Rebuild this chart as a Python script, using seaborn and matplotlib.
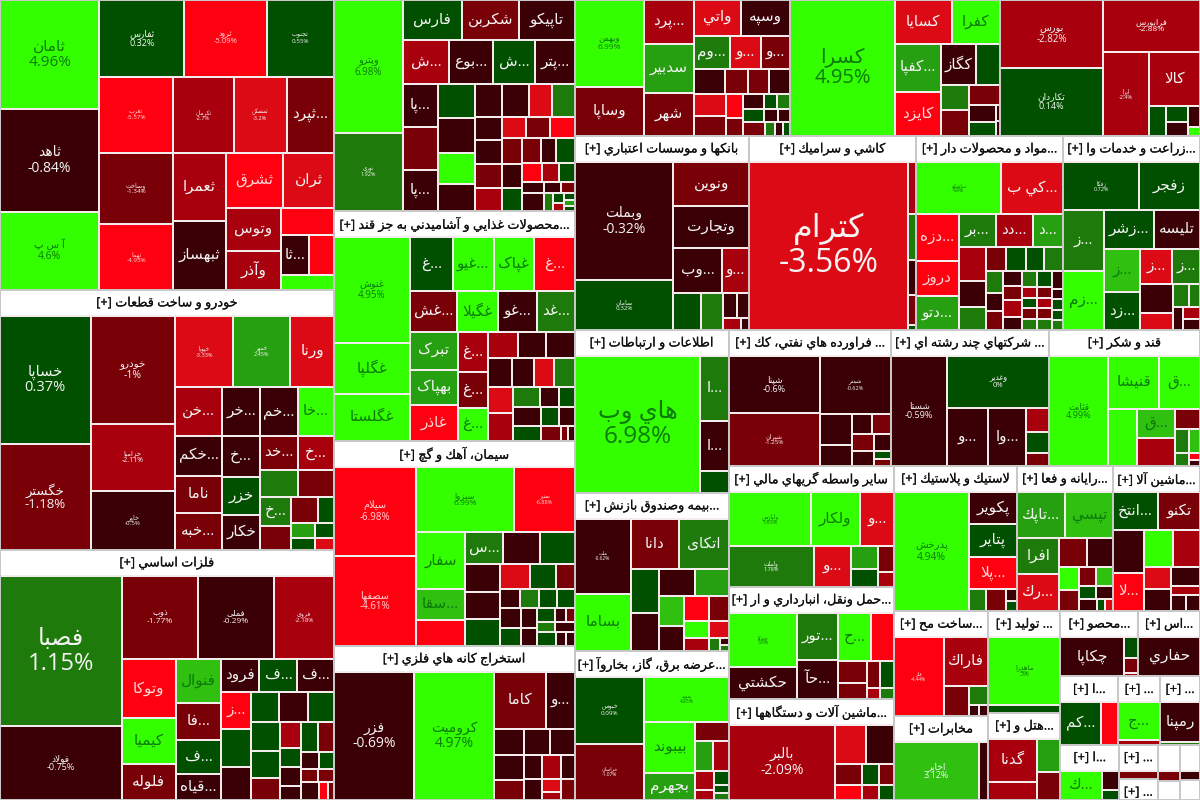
import matplotlib
matplotlib.use("Agg")
import matplotlib.pyplot as plt
import matplotlib.patheffects as pe
from matplotlib.colors import BoundaryNorm, ListedColormap
from matplotlib.patches import Rectangle
import seaborn as sns


def H(*children):
    return ["h", *children]


def V(*children):
    return ["v", *children]


def S(name, total, tree):
    return ["s", name, total, tree]


D, R, E, B, X = -0.6, -1.3, -2.5, -3.5, -5
G, M, L, P, Y = 0.3, 1.3, 2.5, 3.5, 5

# (symbol, change %, market weight)
services_tree = H(
    V(("ثامان", 4.96, 10500), ("ثاهد", -0.84, 9900), ("آ س پ", 4.6, 7500)),
    V(
        H(("ثفارس", 0.32, 6300), ("ثرود", -5.09, 6100), ("ثجنوب", 0.55, 5000)),
        H(("ثغرب", -5.57, 5400), ("ثکرمان", -2.7, 4500), ("ثمسکن", -3.2, 3900), ("...ثپرد", R, 3500)),
        H(
            V(("وساخت", -1.34, 5050), ("ثهما", -4.93, 4700)),
            V(("ثعمرا", E, 3500), ("ثبهساز", D, 3550)),
            V(
                H(("ثشرق", X, 3000), ("ثران", B, 2700)),
                H(
                    V(("وتوس", E, 2300), ("وآذر", E, 2050)),
                    V(("", X, 1400), H(("...ثا", D, 1100), ("", X, 1000)), ("", Y, 750)),
                ),
            ),
        ),
    ),
)
auto_tree = H(
    V(("خساپا", 0.37, 11100), ("خگستر", -1.18, 9200)),
    V(("خودرو", -1, 8700), ("خزامیا", -2.11, 5400), ("خاور", -0.5, 4800)),
    V(
        H(("خپویا", -3.33, 3950), ("خمهر", 2.45, 3900), ("ورنا", B, 3000)),
        H(
            V(("...خن", E, 2150), ("...خکم", D, 1800), ("ناما", R, 1650), ("...خبه", R, 1650)),
            V(("...خر", D, 1800), ("...خ", D, 1520), ("خزر", G, 1400), ("خکار", D, 1300)),
            V(
                H(("...خم", D, 1740), ("...خا", Y, 1700)),
                H(("...خد", R, 1200), ("...خ", E, 1150)),
                H(("", M, 960), ("", R, 940)),
                H(
                    V(("...خ", M, 850), ("", R, 700)),
                    V(
                        H(("", R, 680), ("", G, 420)),
                        H(("", L, 330), ("", G, 270)),
                        H(("", G, 280), ("", B, 220)),
                    ),
                ),
            ),
        ),
    ),
)
metals_tree = H(
    V(("فصبا", 1.15, 17100), ("فولاد", -0.75, 8400)),
    V(
        H(("ذوب", -1.77, 6000), ("فملی", -0.29, 5900), ("فروی", -2.18, 4700)),
        H(
            V(("وتوکا", X, 3000), ("کیمیا", Y, 2300), ("فلوله", R, 1850)),
            V(("فنوال", P, 1850), ("...فا", R, 1550), ("...ف", G, 1450), ("...قیاه", D, 1080)),
            V(
                H(("فرود", D, 1150), ("...ف", G, 1150), ("...ف", D, 1100)),
                H(
                    V(("...ز", X, 1040), ("", G, 1060), ("", D, 920)),
                    V(
                        H(("", G, 810), ("", D, 840), ("", G, 750)),
                        H(
                            V(("", G, 780), ("", G, 730), ("", R, 600)),
                            V(("", E, 520), ("", G, 380), ("", D, 380), ("", D, 270)),
                            V(
                                H(("", G, 470), ("", R, 440)),
                                H(("", D, 270), ("", G, 240)),
                                H(("", R, 220), ("", R, 200)),
                                H(("", D, 300), ("", X, 140), ("", R, 100)),
                            ),
                        ),
                    ),
                ),
            ),
        ),
    ),
)
refinery_tree = H(
    V(("وپترو", 6.98, 8300), ("نوری", 1.92, 4900)),
    V(
        H(("فارس", G, 2150), ("شکربن", R, 2100), ("تاپیکو", D, 2050)),
        H(("...ش", E, 1800), ("...بوع", D, 1720), ("...ش", G, 1680), ("...پتر", D, 1560)),
        H(
            V(("...پا", D, 1380), ("", R, 1340), ("...پا", D, 1300)),
            V(("", G, 1150), ("", D, 1150), ("", Y, 1050), ("", D, 900)),
            V(
                H(("", D, 800), ("", D, 830), ("", B, 680), ("", M, 680)),
                H(
                    V(("", D, 580), ("", D, 580), ("", R, 580), ("", E, 560)),
                    V(
                        H(("", B, 480), ("", R, 460), ("", X, 480)),
                        H(
                            V(("", R, 490), ("", D, 450), ("", G, 420)),
                            V(
                                H(("", R, 420), ("", D, 350), ("", G, 420)),
                                H(("", X, 330), ("", E, 290), ("", G, 280)),
                                H(("", D, 230), ("", D, 190), ("", R, 150)),
                                H(("", D, 340), ("", M, 150), V(("", G, 100), ("", E, 80)), V(("", G, 60), ("", L, 60), ("", G, 50))),
                            ),
                        ),
                    ),
                ),
            ),
        ),
    ),
)
food_tree = H(
    V(("غنوش", 4.95, 7250), ("غگلپا", Y, 3550), ("غگلستا", Y, 3200)),
    V(
        H(("...غ", G, 2100), ("...غيو", Y, 2000), ("غپاک", Y, 2000), ("...غ", X, 2000)),
        H(("...غش", R, 1700), ("غگیلا", Y, 1520), ("...غو", D, 1400), ("...غد", M, 1400)),
        H(
            V(("تبرک", L, 1650), ("بهپاک", L, 1550), ("غاذر", X, 1550)),
            V(("...غ", E, 1100), ("...غ", R, 980), ("...غ", Y, 900)),
            V(
                H(("", E, 720), ("", D, 680), ("", D, 700)),
                H(("", D, 600), ("", D, 570), ("", B, 510), ("", M, 540)),
                H(
                    V(("", B, 600), ("", E, 620)),
                    V(
                        H(("", M, 500), ("", D, 340), ("", G, 290)),
                        H(("", D, 470), ("", G, 320), ("", D, 270)),
                        H(("", G, 390), ("", R, 270), ("", R, 100), ("", D, 100)),
                    ),
                ),
            ),
        ),
    ),
)
cement_tree = H(
    V(("سیلام", -6.98, 6600), ("سصفها", -4.61, 6700)),
    V(
        H(("سبزوا", 6.99, 5800), ("ستپر", -6.88, 3650)),
        H(
            V(("سفار", Y, 2530), ("...سقا", P, 1380), ("", X, 1150)),
            V(
                H(("...س", M, 1100), ("", D, 1080), ("", G, 1020)),
                H(
                    V(("", D, 860), ("", D, 860), ("", G, 860)),
                    V(
                        H(("", B, 670), ("", G, 600), ("", R, 430)),
                        H(("", D, 330), ("", M, 330), ("", G, 300), ("", G, 300)),
                        H(
                            V(("", D, 380), ("", G, 340)),
                            V(("", D, 300), ("", D, 270)),
                            V(
                                H(("", G, 220), ("", D, 140), ("", R, 110)),
                                H(("", M, 170), ("", D, 200)),
                                H(("", G, 230), ("", D, 130), ("", D, 110)),
                            ),
                        ),
                    ),
                ),
            ),
        ),
    ),
)
mining_tree = H(
    ("فزر", -0.69, 9400),
    ("کرومیت", 4.97, 9300),
    V(
        H(("کاما", R, 2700), ("...و", D, 1500)),
        H(("", D, 730), ("", D, 630), ("", D, 600)),
        H(
            V(("", D, 680), ("", R, 560)),
            V(
                H(("", D, 400), ("", E, 430), ("", D, 310)),
                H(("", D, 340), V(("", B, 220), ("", E, 150)), ("", R, 260)),
            ),
        ),
    ),
)
auto_parts_tree = H(
    V(("وبهمن", 6.99, 5500), ("وساپا", R, 3100)),
    V(("...پرد", E, 2000), ("سدبیر", L, 2250), ("شهر", R, 1950)),
    V(
        H(("واتي", B, 1550), ("وسپه", D, 1600)),
        H(("...وم", M, 1120), ("...و", B, 970), ("...و", R, 900)),
        H(("", D, 720), ("", R, 500), ("", R, 480), ("", D, 480)),
        H(
            V(("", B, 650), ("", R, 590)),
            V(("", X, 380), ("", R, 290)),
            V(
                H(("", D, 280), ("", G, 170), ("", M, 170)),
                H(("", G, 260), ("", D, 170), ("", D, 150)),
                H(("", R, 280), ("", M, 130), ("", D, 100), ("", G, 90)),
            ),
        ),
    ),
)
tile_top_tree = H(
    ("کسرا", 4.95, 13200),
    V(
        H(("کسایا", B, 2300), ("کفرا", Y, 1950)),
        H(
            V(("...کفپا", L, 2050), ("کایزد", X, 1900)),
            V(
                H(("کگاز", D, 1350), ("", G, 900)),
                H(
                    V(("", M, 680), ("", R, 680)),
                    V(("", R, 580), H(V(("", D, 420), ("", G, 340)), V(("", D, 60), ("", D, 60)))),
                ),
            ),
        ),
    ),
)
exchange_tree = H(
    V(("بورس", -2.82, 6600), ("تکاردان", 0.14, 6700)),
    V(
        ("فرابورس", -2.88, 4750),
        H(
            ("ایرا", -2.4, 3650),
            V(
                ("کالا", E, 2650),
                H(("", G, 470), V(("", G, 320), ("", D, 300)), V(("", D, 240), ("", Y, 110))),
            ),
        ),
    ),
)
banks_tree = H(
    V(("وبملت", -0.32, 10500), ("سامان", 0.32, 4400)),
    V(
        ("ونوین", R, 3000),
        ("وتجارت", D, 2900),
        H(("...وب", D, 2000), ("...و", E, 1100)),
        H(
            ("", G, 930),
            ("", M, 740),
            V(H(("", D, 320), ("", D, 280)), H(("", E, 190), ("", D, 90))),
        ),
    ),
)
tile_tree = H(
    ("کترام", -3.56, 25100),
    V(("", E, 380), ("", M, 340), ("", D, 250), ("", R, 220), ("", G, 40)),
)
materials_tree = V(
    H(("ساشکو", 4.8, 3850), ("...كي ب", B, 2800)),
    H(
        V(("...دزه", X, 1760), ("دروز", X, 1300), ("...دتو", L, 1280)),
        V(
            H(("...بر", M, 1050), ("...دد", E, 1050), ("...د", L, 870)),
            H(
                V(("", E, 800), ("", D, 600), ("", M, 550)),
                V(
                    H(("", R, 420), ("", G, 420), ("", G, 370), ("", M, 400)),
                    H(
                        V(("", M, 340), ("", D, 290), ("", R, 290)),
                        V(("", D, 255), ("", R, 230), ("", E, 270), ("", D, 210)),
                        V(("", M, 210), ("", E, 140), ("", G, 140), ("", R, 140), ("", M, 140)),
                        V(("", G, 210), ("", R, 140), ("", E, 140), ("", R, 140), ("", M, 140)),
                        V(("", D, 180), ("", D, 100), ("", G, 100), ("", G, 100), ("", M, 100)),
                    ),
                ),
            ),
        ),
    ),
)
farming_tree = V(
    H(("زفکا", 0.72, 3350), ("زفجر", G, 2700)),
    H(
        V(("...ز", M, 2300), ("...زم", Y, 2250)),
        V(
            H(("...زشر", G, 1750), ("تلیسه", D, 1650)),
            H(
                V(("...ز", P, 1400), ("...زد", G, 1250)),
                V(
                    H(("...ز", B, 1050), ("...ز", M, 920)),
                    H(
                        V(("", D, 870), ("", B, 510)),
                        V(
                            H(("", M, 330), ("", M, 240)),
                            H(("", D, 210), V(("", E, 190), ("", D, 170))),
                        ),
                    ),
                ),
            ),
        ),
    ),
)
telecom_tree = H(
    ("هاي وب", 6.98, 16500),
    V(("...ا", M, 1830), ("...ا", D, 1420), ("", G, 610)),
)
insurance_tree = H(
    V(("ملت", -0.62, 3700), ("بساما", Y, 2850)),
    V(
        H(("دانا", R, 2200), ("اتکای", M, 2250)),
        H(
            V(("", G, 1130), ("", D, 970)),
            V(
                H(("", D, 840), ("", L, 800)),
                H(
                    V(("", P, 670), ("", D, 570)),
                    V(
                        H(("", X, 550), ("", R, 450)),
                        H(("", Y, 380), ("", B, 320)),
                        H(("", E, 290), ("", M, 130), V(("", D, 50), ("", M, 50))),
                    ),
                ),
            ),
        ),
    ),
)
power_tree = H(
    V(("خبوس", 0.09, 4250), ("خراسان", -1.07, 3600)),
    V(
        ("بموند", 4.85, 3500),
        H(
            V(("بيبوند", Y, 2450), ("بجهرم", L, 1250)),
            V(
                ("", R, 600),
                H(("", L, 510), ("", E, 450)),
                H(V(("", E, 330), ("", E, 170)), V(("", G, 200), ("", G, 110), ("", M, 100))),
            ),
        ),
    ),
)
petro_tree = H(
    V(("شپنا", -0.6, 4750), ("شپران", -1.25, 4470)),
    V(
        ("شبندر", -0.62, 3850),
        H(
            V(("", D, 930), ("", D, 620)),
            V(
                H(("", D, 360), ("", R, 360)),
                H(("", R, 340), ("", D, 260)),
                H(("", D, 300), V(("", G, 120), ("", R, 120))),
            ),
        ),
    ),
)
holding_tree = H(
    ("شستا", -0.59, 5700),
    V(
        ("وغدیر", 0, 4850),
        H(
            ("...و", D, 2200),
            ("...وا", D, 2050),
            V(("", E, 510), ("", G, 460), ("", R, 280)),
        ),
    ),
)
sugar_tree = H(
    ("قثابت", 4.99, 5900),
    V(
        H(("قنیشا", Y, 2450), ("...ق", Y, 1950)),
        H(
            ("", Y, 1540),
            V(("...ق", P, 1000), ("", E, 940)),
            V(
                ("", R, 470),
                H(("", M, 320), ("", P, 230)),
                H(("", M, 170), V(("", X, 80), ("", D, 60))),
            ),
        ),
    ),
)
brokers_tree = V(
    H(("ولپارس", 5.85, 3900), ("ولکار", Y, 2350), ("...و", B, 1650)),
    H(
        ("ولملت", 1.78, 3100),
        ("...و", B, 1360),
        V(("", L, 570), ("", G, 430)),
        V(("", R, 370), ("", E, 220)),
    ),
)
transport_tree = H(
    V(("حتوکا", 5.6, 3100), ("حکشتي", D, 1860)),
    V(("...تور", M, 1680), ("...حآ", D, 1400)),
    V(
        H(("...ح", Y, 1330), ("", X, 950)),
        H(V(("", R, 540), ("", R, 380)), V(("", R, 320), ("", E, 130)), V(("", G, 320), ("", M, 130))),
    ),
)
machinery_tree = H(
    ("بالبر", -2.09, 7600),
    V(
        H(("", B, 1140), ("", D, 1030)),
        H(("", R, 540), ("", G, 340), ("", R, 310)),
        H(("", X, 390), ("", E, 240), ("", G, 220)),
    ),
)
rubber_tree = H(
    ("پدرخش", 4.94, 8100),
    V(
        ("پکویر", D, 1390),
        ("پتایر", G, 1440),
        ("...پلا", X, 1390),
        H(("", M, 330), ("", R, 400), V(("", D, 120), ("", G, 105))),
    ),
)
computer_tree = V(
    H(("...تاپك", L, 1980), ("تپسي", P, 1950)),
    H(
        V(("افرا", M, 1330), ("...رك", B, 1400)),
        V(
            H(("", R, 700), ("", D, 670)),
            H(
                V(("", Y, 400), ("", R, 360)),
                V(
                    H(("", R, 290), ("", P, 290)),
                    H(("", G, 200), ("", D, 190)),
                    H(("", D, 190), ("", G, 90), ("", B, 80)),
                ),
            ),
        ),
    ),
)
equipment_tree = V(
    H(("...انتخ", G, 1520), ("تکنو", R, 1400)),
    H(
        V(("", D, 1190), ("...لا", X, 1080)),
        V(
            H(("", Y, 920), ("", E, 900)),
            H(
                V(("", B, 520), ("", D, 520)),
                V(("", D, 490), ("", E, 260), H(("", D, 220), ("", D, 190))),
            ),
        ),
    ),
)
build_tree = H(
    ("فلز", -4.44, 3400),
    V(
        ("فاراك", E, 1900),
        H(("", R, 690), V(("", M, 310), H(("", D, 100), ("", D, 90)))),
    ),
)
comm_tree = H(("اخابر", 3.12, 4600), ("", D, 530))
make_tree = V(("ماهدرا", 5, 4300), ("", G, 540))
hotel_tree = H(V(("گدنا", E, 1900), ("", E, 800)), V(("", L, 680), ("", R, 590)))
product_tree = H(("چكاپا", -0.5, 2060), V(("", G, 240), ("", R, 170), ("", E, 40)))
drill_tree = H(("حفاري", D, 2100))
small_a_tree = H(("...كم", G, 1400), ("", X, 600))
small_b_tree = V(("...ج", Y, 1360), ("", E, 160))
small_c_tree = V(("رمپنا", D, 1380), ("", M, 110))
small_d_tree = H(("...ك", Y, 1100), V(("", D, 300), ("", G, 165)))
small_e_tree = H(("", R, 210))
small_f_tree = H(("", R, 180))
small_g_tree = H(("", D, 180))
small_h_tree = H(("", D, 60))

root = H(
    V(
        S(None, 96860, services_tree),
        S("خودرو و ساخت قطعات", 86840, auto_tree),
        S("فلزات اساسي", 83500, metals_tree),
    ),
    V(
        S(None, 50851, refinery_tree),
        S("...محصولات غذايي و آشاميدني به جز قند", 55430, food_tree),
        S("سيمان، آهك و گچ", 49405, cement_tree),
        S("استخراج كانه هاي فلزي", 37114, mining_tree),
    ),
    V(
        H(S(None, 29240, auto_parts_tree), S(None, 28560, tile_top_tree), S(None, 27200, exchange_tree)),
        H(
            S("بانكها و موسسات اعتباري", 33756, banks_tree),
            S("كاشي و سراميك", 32398, tile_tree),
            S("...مواد و محصولات دار", 28518, materials_tree),
            S("...زراعت و خدمات وا", 26578, farming_tree),
        ),
        H(
            V(
                S("اطلاعات و ارتباطات", 25102, telecom_tree),
                S("...بيمه وصندوق بازنش", 24332, insurance_tree),
                S("...عرضه برق، گاز، بخاروآ", 22946, power_tree),
            ),
            V(
                H(
                    S("... فراورده هاي نفتي، كك", 22032, petro_tree),
                    S("... شركتهاي چند رشته اي", 21488, holding_tree),
                    S("قند و شكر", 20536, sugar_tree),
                ),
                H(
                    V(
                        S("سایر واسطه گریهاي مالي", 19965, brokers_tree),
                        S("...حمل ونقل، انبارداري و ار", 18480, transport_tree),
                        S("...ماشين آلات و دستگاهها", 16665, machinery_tree),
                    ),
                    V(
                        H(
                            S("لاستيك و پلاستيك", 17835, rubber_tree),
                            S("...رايانه و فعا", 13920, computer_tree),
                            S("...ماشين آلا", 12615, equipment_tree),
                        ),
                        H(
                            V(S("...ساخت مح", 9870, build_tree), S("مخابرات", 7896, comm_tree)),
                            V(S("... توليد", 7344, make_tree), S("...هتل و", 6264, hotel_tree)),
                            V(
                                H(S("...محصو", 5070, product_tree), S("...اس", 4030, drill_tree)),
                                H(S("...ا", 3944, small_a_tree), S("...", 2856, small_b_tree), S("...", 2720, small_c_tree)),
                                H(
                                    S("...ا", 3248, small_d_tree),
                                    V(S("...", 1330, small_e_tree), S("...", 798, small_h_tree)),
                                    V(S("", 800, small_f_tree), S("", 430, small_h_tree)),
                                    V(S("", 720, small_g_tree), S("", 400, small_h_tree)),
                                ),
                            ),
                        ),
                    ),
                ),
            ),
        ),
    ),
)

# symbols printed with their change, and the point size each one is printed at
percent_label_sizes = {
    "ثامان": 11, "ثاهد": 10, "آ س پ": 7.5, "ثفارس": 6.5, "ثرود": 5.5, "ثجنوب": 4.5, "ثغرب": 4.5,
    "ثکرمان": 4, "ثمسکن": 4, "وساخت": 4.5, "ثهما": 4.5, "خساپا": 10.5, "خگستر": 9.5, "خودرو": 7.5,
    "خزامیا": 5, "خاور": 4.5, "خپویا": 4, "خمهر": 4, "فصبا": 17, "ذوب": 6, "فملی": 6, "فروی": 4.5,
    "فولاد": 6.5, "وپترو": 7, "نوری": 4, "غنوش": 7, "سیلام": 7, "سصفها": 7, "سبزوا": 6, "ستپر": 4,
    "فزر": 10, "کرومیت": 10, "وبهمن": 6, "کسرا": 14.5, "بورس": 7, "فرابورس": 6, "تکاردان": 6.5,
    "ایرا": 4, "وبملت": 10, "سامان": 4.5, "کترام": 23, "ساشکو": 3.5, "زفکا": 4, "هاي وب": 17.5,
    "ملت": 3.5, "خبوس": 4.5, "خراسان": 3.5, "بموند": 3.5, "شپنا": 6.5, "شبندر": 4, "شپران": 4.5,
    "شستا": 6.5, "وغدیر": 5.5, "قثابت": 6.5, "ولپارس": 4, "ولملت": 4, "حتوکا": 3.5, "بالبر": 10,
    "پدرخش": 7.5, "فلز": 3.5, "اخابر": 6.5, "ماهدرا": 5,
}
colour_bounds = [-100, -4, -3, -2, -0.99, -1e-9, 1, 2, 3, 4, 100]
cell_colours = ["#ff0010", "#dc0a14", "#a8000d", "#7a0008", "#3a0005",
                "#005000", "#1e7a0a", "#26a010", "#2fc010", "#33ff00"]

FORMS = {}
for c, s in [("ب", 0xFE8F), ("ت", 0xFE95), ("ث", 0xFE99), ("ج", 0xFE9D), ("ح", 0xFEA1), ("خ", 0xFEA5),
             ("س", 0xFEB1), ("ش", 0xFEB5), ("ص", 0xFEB9), ("ض", 0xFEBD), ("ط", 0xFEC1), ("ظ", 0xFEC5),
             ("ع", 0xFEC9), ("غ", 0xFECD), ("ف", 0xFED1), ("ق", 0xFED5), ("ك", 0xFED9), ("ل", 0xFEDD),
             ("م", 0xFEE1), ("ن", 0xFEE5), ("ه", 0xFEE9), ("ي", 0xFEF1), ("ی", 0xFBFC), ("پ", 0xFB56),
             ("چ", 0xFB7A), ("ک", 0xFB8E), ("گ", 0xFB92)]:
    FORMS[c] = (s, s + 1, s + 2, s + 3)
for c, s in [("ا", 0xFE8D), ("آ", 0xFE81), ("د", 0xFEA9), ("ذ", 0xFEAB), ("ر", 0xFEAD), ("ز", 0xFEAF),
             ("و", 0xFEED), ("ژ", 0xFB8A)]:
    FORMS[c] = (s, s + 1, None, None)


def shape(text):
    out = []
    i = 0
    prev_joins = False
    while i < len(text):
        c = text[i]
        if c == "ل" and i + 1 < len(text) and text[i + 1] in "اآ":
            base = 0xFEFB if text[i + 1] == "ا" else 0xFEF5
            out.append(chr(base + (1 if prev_joins else 0)))
            prev_joins = False
            i += 2
            continue
        f = FORMS.get(c)
        if f is None:
            out.append(c)
            prev_joins = False
            i += 1
            continue
        next_joins = i + 1 < len(text) and text[i + 1] in FORMS
        if f[2] is None:
            out.append(chr(f[1] if prev_joins else f[0]))
            prev_joins = False
        else:
            if prev_joins and next_joins:
                out.append(chr(f[3]))
            elif prev_joins:
                out.append(chr(f[1]))
            elif next_joins:
                out.append(chr(f[2]))
            else:
                out.append(chr(f[0]))
            prev_joins = next_joins
        i += 1
    return "".join(out)[::-1]


def weight(node):
    if isinstance(node, tuple):
        return node[2]
    if node[0] == "s":
        return node[2]
    return sum(weight(c) for c in node[1:])


def layout(node, x, y, w, h, cells, sectors):
    if isinstance(node, tuple):
        cells.append((node, x, y, w, h))
    elif node[0] == "s":
        head = 0 if node[1] is None else HEADER
        sectors.append((node[1], x, y, w, h))
        layout(node[3], x, y + head, w, h - head, cells, sectors)
    else:
        total = sum(weight(c) for c in node[1:])
        pos = 0
        for c in node[1:]:
            part = weight(c) / total
            if node[0] == "h":
                layout(c, x + pos * w, y, part * w, h, cells, sectors)
            else:
                layout(c, x, y + pos * h, w, part * h, cells, sectors)
            pos += part


HEADER = 26
FIG_W, FIG_H = 1200, 800
sns.set_theme(style="white")
plt.rcParams["font.family"] = ["Open Sans", "DejaVu Sans"]

cells, sectors = [], []
layout(root, 0, 0, FIG_W, FIG_H, cells, sectors)

fig = plt.figure(figsize=(12, 8), dpi=100, facecolor="#c8c8c8")
ax = fig.add_axes([0, 0, 1, 1])
ax.set_xlim(0, FIG_W)
ax.set_ylim(FIG_H, 0)
ax.axis("off")
sns.despine(ax=ax, left=True, bottom=True)

palette = sns.color_palette(cell_colours)
cmap = ListedColormap(palette)
norm = BoundaryNorm(colour_bounds, cmap.N)


def fit(t, width, size):
    rend = fig.canvas.get_renderer()
    ext = t.get_window_extent(rend)
    if ext.width > width - 2:
        t.set_fontsize(max(4, size * (width - 2) / ext.width))


for name, x, y, w, h in sectors:
    ax.add_patch(Rectangle((x + 1, y + 1), w - 2, h - 2, fc="#f4ecec", ec="none", zorder=1))
    if name is not None:
        ax.add_patch(Rectangle((x + 1, y + 1), w - 2, min(HEADER, h) - 2, fc="white", ec="none", zorder=5))
        label = "[+] " + shape(name) if name else ""
        t = ax.text(x + w / 2, y + HEADER / 2, label, ha="center", va="center", fontsize=9.2, color="#111111", zorder=6,
                    path_effects=[pe.withStroke(linewidth=0.12, foreground="#111111")])
        fit(t, w - 2, 9.2)

for (name, pct, _), x, y, w, h in cells:
    c = cmap(norm(pct))
    ax.add_patch(Rectangle((x + 1, y + 1), max(w - 2, 0.5), max(h - 2, 0.5), fc=c, ec="none", zorder=3))
    if not name:
        continue
    if pct >= 3.3:
        tc = "#0b7a0b"
    elif pct < -3.9:
        tc = "#ffd8d8"
    else:
        tc = "#f4f4f4"
    if name in percent_label_sizes:
        size = percent_label_sizes[name]
        ax.text(x + w / 2, y + h / 2, f"{shape(name)}\n{pct:g}%", ha="center", va="center", fontsize=size,
                color=tc, zorder=4, linespacing=1.05)
    else:
        t = ax.text(x + w / 2, y + h / 2, shape(name), ha="center", va="center", fontsize=11, color=tc, zorder=4)
        fit(t, w, 11)

fig.savefig("out.png", dpi=100)
